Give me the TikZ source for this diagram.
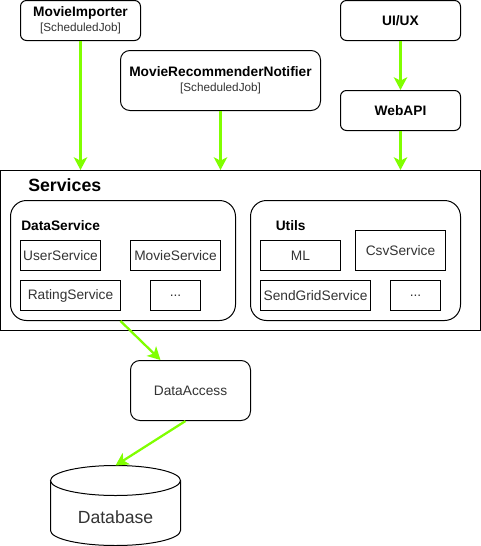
\documentclass[tikz,border=0pt]{standalone}
\usepackage{fontspec}
\setmainfont{Liberation Sans}
\usetikzlibrary{arrows.meta}
\definecolor{arr}{HTML}{80FF00}
\definecolor{txt}{HTML}{333333}
\tikzset{
  sz/.style 2 args={minimum width=#1*0.75pt, minimum height=#2*0.75pt},
  box/.style={draw, line width=0.75pt, fill=white, inner sep=0pt, align=center,
    font=\fontsize{10.3}{11.6}\selectfont, text=txt},
  rbox/.style={box, rounded corners=#1},
  rbox/.default=5pt,
  title/.style={font=\fontsize{10.3}{11.6}\selectfont\bfseries, text=black, inner sep=0pt},
  conn/.style={draw=arr, line width=1.7pt,
    -{Stealth[length=9.5pt, width=10pt, inset=2.5pt]}},
}
\newcommand{\subjob}{{\fontsize{8.8}{10}\selectfont\color{txt}[ScheduledJob]}}
\begin{document}
\begin{tikzpicture}[x=0.75pt,y=-0.75pt]
\useasboundingbox (0,0) rectangle (481,546);

% top row
\node[rbox=4.5pt, sz={120}{40}] (mi) at (80.5,20.5)
  {\textbf{\color{black}MovieImporter}\\[-0.5pt]\subjob};
\node[rbox=7pt, sz={200}{60}] (mrn) at (220.5,80.5)
  {\textbf{\color{black}MovieRecommenderNotifier}\\[-0.5pt]\subjob};
\node[rbox=4.5pt, sz={120}{40}] (ui) at (400.5,20.5) {\textbf{\color{black}UI/UX}};
\node[rbox=4.5pt, sz={120}{40}] (web) at (400.5,110.5) {\textbf{\color{black}WebAPI}};

% Services container
\node[box, sz={480}{160}] (srv) at (240.5,250.5) {};
\node[title, anchor=west, font=\fontsize{13.3}{15}\selectfont\bfseries] (srvt) at (28,185) {Services};

% DataService group
\node[rbox=12pt, sz={225}{120}] (ds) at (123,260.5) {};
\node[title, anchor=west] (dst) at (21,226) {DataService};
\node[box, sz={80}{30}] (us) at (60.5,255.5) {UserService};
\node[box, sz={90}{30}] (ms) at (175.5,255.5) {MovieService};
\node[box, sz={100}{30}] (rs) at (70.5,295.5) {RatingService};
\node[box, sz={50}{30}] (d1) at (175.5,295.5) {...};

% Utils group
\node[rbox=12pt, sz={210}{120}] (ut) at (355.5,260.5) {};
\node[title, anchor=west] (utt) at (275.5,226) {Utils};
\node[box, sz={80}{30}] (ml) at (300.5,255.5) {ML};
\node[box, sz={90}{40}] (csv) at (400.5,250.5) {CsvService};
\node[box, sz={110}{30}] (sg) at (315.5,295.5) {SendGridService};
\node[box, sz={50}{30}] (d2) at (415.5,295.5) {...};

% DataAccess
\node[rbox=7pt, sz={120}{60}] (da) at (190.5,390.5) {DataAccess};

% Database cylinder
\draw[line width=0.75pt, fill=white] (50.5,480.5) -- (50.5,530.5)
  arc[start angle=180, end angle=360, x radius=48.75pt, y radius=11.25pt]
  -- (180.5,480.5);
\draw[line width=0.75pt, fill=white] (115.5,480.5) ellipse [x radius=48.75pt, y radius=11.25pt];
\node[text=txt, font=\fontsize{13.2}{15}\selectfont, inner sep=0pt] (db) at (115.5,517.5) {Database};
\coordinate (dbtop) at (115.5,465.5);

% connectors
\draw[conn] (mi.south) -- (mi.south |- srv.north);
\draw[conn] (mrn.south) -- (mrn.south |- srv.north);
\draw[conn] (ui.south) -- (web.north);
\draw[conn] (web.south) -- (web.south |- srv.north);
\draw[conn] ([xshift=-1.9pt]ds.south) -- ([xshift=-22.5pt]da.north);
\draw[conn] ([xshift=-3.75pt]da.south) -- (dbtop);
\end{tikzpicture}
\end{document}
